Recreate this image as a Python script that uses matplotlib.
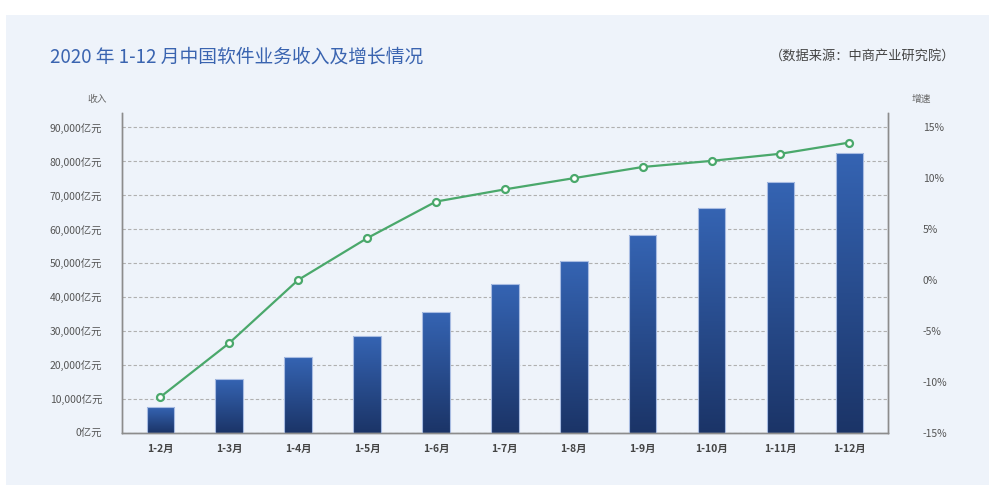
import matplotlib.pyplot as plt
import numpy as np
from matplotlib.patches import Rectangle
from matplotlib.colors import LinearSegmentedColormap
from matplotlib.ticker import FuncFormatter

plt.rcParams['font.family'] = ['Noto Sans CJK SC', 'DejaVu Sans']

# 数据
months = ['1-2月', '1-3月', '1-4月', '1-5月', '1-6月', '1-7月',
          '1-8月', '1-9月', '1-10月', '1-11月', '1-12月']
revenue = [7500, 15700, 22300, 28500, 35600, 43700,
           50600, 58300, 66200, 73900, 82400]
growth = [-11.5, -6.2, 0.0, 4.1, 7.7, 8.9, 10.0, 11.1, 11.7, 12.4, 13.5]
left_ticks = [0, 10000, 20000, 30000, 40000, 50000, 60000, 70000, 80000, 90000]
right_ticks = [-15, -10, -5, 0, 5, 10, 15]

fig = plt.figure(figsize=(10, 4.99), dpi=100)
fig.patch.set_facecolor('white')
# 浅蓝色背景面板
fig.patches.append(Rectangle((0.006, 1 - 485 / 499), 0.983, 470 / 499,
                             transform=fig.transFigure, facecolor='#EEF3FA',
                             edgecolor='none', zorder=-10))

ax = fig.add_axes([0.1217, 0.1329, 0.888 - 0.1217, 0.7735 - 0.1329])
ax.set_facecolor('none')
ax2 = ax.twinx()

x = np.arange(len(months))
w = 0.40
cmap = LinearSegmentedColormap.from_list('bar', ['#1B3467', '#3564B3'])
grad = np.linspace(0, 1, 256).reshape(-1, 1)
for xi, v in zip(x, revenue):
    ax.imshow(grad, cmap=cmap, origin='lower', aspect='auto',
              extent=(xi - w / 2, xi + w / 2, 0, v), zorder=2)
ax.bar(x, revenue, width=w, facecolor='none', edgecolor='#A8BCE2',
       linewidth=0.8, zorder=3)

ax.set_xlim(-0.56, 10.56)
ax.set_ylim(0, 94200)
ax.set_yticks(left_ticks)
ax.yaxis.set_major_formatter(FuncFormatter(lambda v, p: f'{int(v):,}亿元'))
ax.set_xticks(x)
ax.set_xticklabels(months, fontsize=7.5, fontweight='bold', color='#444444')
ax.tick_params(axis='x', length=0, pad=8)
ax.tick_params(axis='y', length=0, pad=14, labelsize=7.5, labelcolor='#555555')
ax.grid(axis='y', color='#B0B0B0', linestyle=(0, (3, 2)), linewidth=0.8)
ax.set_axisbelow(True)

ax2.plot(x, growth, color='#4AA86B', linewidth=1.6, marker='o', markersize=5,
         markerfacecolor='white', markeredgecolor='#4AA86B',
         markeredgewidth=1.6, zorder=5)
ax2.set_ylim(-15, 16.4)
ax2.set_yticks(right_ticks)
ax2.yaxis.set_major_formatter(FuncFormatter(lambda v, p: f'{int(v)}%'))
ax2.tick_params(axis='y', length=0, pad=25, labelsize=7.5, labelcolor='#555555')

for a in (ax, ax2):
    a.spines['top'].set_visible(False)
    for s in ('left', 'right', 'bottom'):
        a.spines[s].set_color('#8C8C8C')
        a.spines[s].set_linewidth(1.0)

fig.text(0.050, 1 - 57 / 499, '2020 年 1-12 月中国软件业务收入及增长情况',
         fontsize=13.5, color='#3A64B0', va='center', ha='left')
fig.text(0.955, 1 - 57 / 499, '（数据来源：中商产业研究院）',
         fontsize=9.5, color='#444444', va='center', ha='right')
fig.text(0.107, 1 - 99 / 499, '收入', fontsize=7, color='#666666',
         va='center', ha='right')
fig.text(0.912, 1 - 99 / 499, '增速', fontsize=7, color='#666666',
         va='center', ha='left')

fig.savefig('out.png', dpi=100, facecolor='white')
